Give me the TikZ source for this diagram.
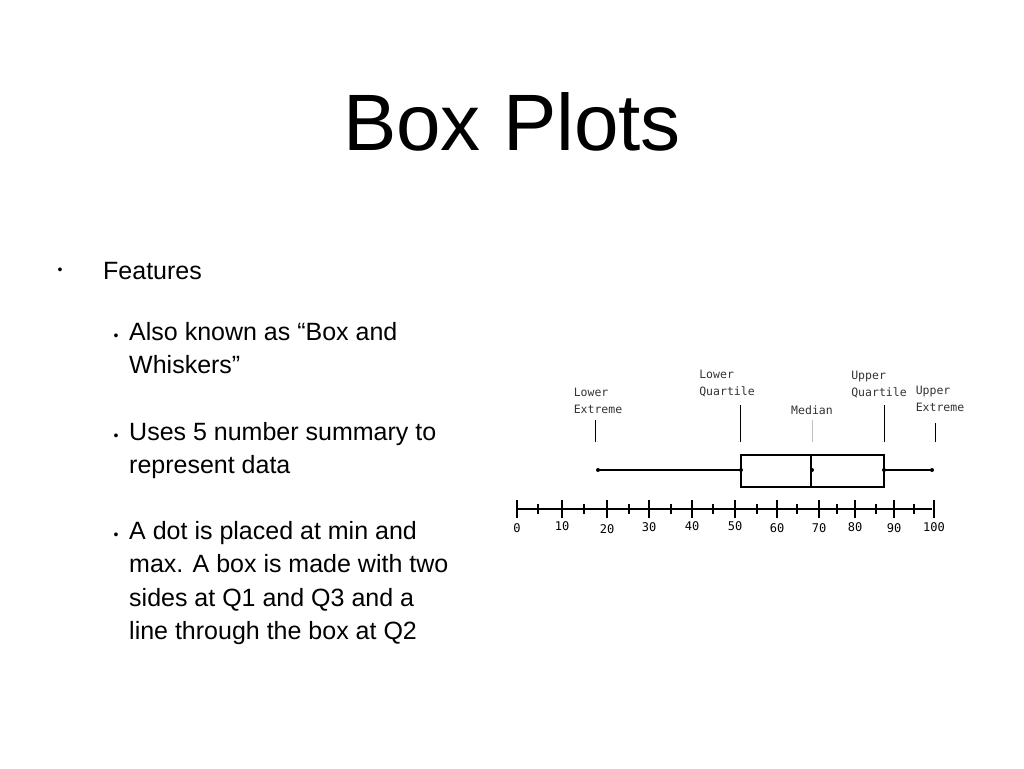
\documentclass[tikz,border=0pt]{standalone}
\usepackage{fontspec}
\setmainfont{Liberation Sans}
\newfontfamily\smallfont{DejaVu Sans Mono}
\begin{document}
\begin{tikzpicture}[x=1pt,y=-1pt,
  body/.style={anchor=west,inner sep=0pt,font=\fontsize{25}{33.5}\selectfont,align=left},
  bul/.style={inner sep=0pt,font=\fontsize{14}{14}\selectfont},
  lab/.style={inner sep=0pt,font=\smallfont\fontsize{11.5}{17}\selectfont,align=left,text=black!80},
  num/.style={inner sep=0pt,font=\smallfont\fontsize{12}{12}\selectfont},
  dot/.style={circle,fill=black,inner sep=0pt,minimum size=4pt}]
\useasboundingbox (0,0) rectangle (1024,768);
\node[inner sep=0pt,font=\fontsize{80}{80}\selectfont] (title) at (512,122) {Box Plots};
\node[bul] (b0) at (60,271) {•};
\node[body] (t0) at (103,271) {Features};
\node[bul] (b1) at (116,337) {•};
\node[body,anchor=north west] (t1) at (129,322) {Also known as “Box and\\Whiskers”};
\node[bul] (b2) at (116,437) {•};
\node[body,anchor=north west] (t2) at (129,422) {Uses 5 number summary to\\represent data};
\node[bul] (b3) at (116,536) {•};
\node[body,anchor=north west] (t3) at (129,521) {A dot is placed at min and\\max. A box is made with two\\sides at Q1 and Q3 and a\\line through the box at Q2};
% axis
\draw[line width=2.5pt] (517,509) -- (932,509);
\foreach \x/\l/\ly in {517/0/528,562/10/526,607/20/529,649/30/527,692/40/526,735/50/526,777/60/528,819/70/528,855/80/527,894/90/528,934/100/527}{
  \draw[line width=1.3pt] (\x,500) -- (\x,518);
  \node[num] at (\x,\ly) {\l};}
\foreach \x in {538,584,629,671,713,757,797,837,876,914}{
  \draw[line width=1.3pt] (\x,504) -- (\x,514);}
% box plot
\draw[line width=1.8pt] (741,455) rectangle (884,487);
\draw[line width=1.8pt] (811,455) -- (811,487);
\draw[line width=1.8pt] (598,470) -- (741,470);
\draw[line width=1.8pt] (884,470) -- (932,470);
\node[dot] (mn) at (598,470) {};
\node[dot] (q1) at (741,470) {};
\node[dot] (md) at (812,470) {};
\node[dot] (q3) at (884,470) {};
\node[dot] (mx) at (932,470) {};
% labels
\node[lab] (l1) at (598,401) {Lower\\Extreme};
\node[lab] (l2) at (727,384) {Lower\\Quartile};
\node[lab] (l3) at (812,410) {Median};
\node[lab] (l4) at (879,385) {Upper\\Quartile};
\node[lab] (l5) at (940,399) {Upper\\Extreme};
\draw[line width=1pt] (595,420) -- (595,442);
\draw[line width=1pt] (740,405) -- (740,442);
\draw[line width=1pt,gray!50] (812,420) -- (812,442);
\draw[line width=1pt] (884,405) -- (884,442);
\draw[line width=1pt] (935,423) -- (935,442);
\end{tikzpicture}
\end{document}
